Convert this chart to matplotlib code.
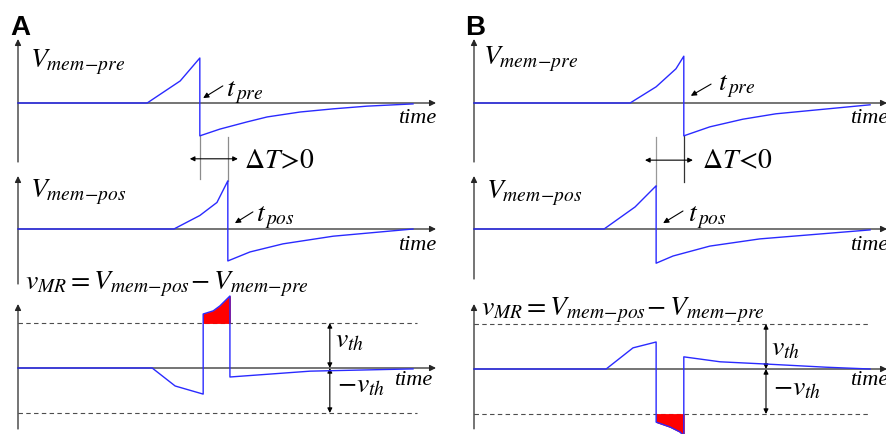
import numpy as np
import matplotlib.pyplot as plt

plt.rcParams['mathtext.fontset'] = 'stix'

# waveforms, time in arbitrary units (axis spans 0..100), voltage in units of v_th
pre_a_t = [0, 30.9, 38.8, 43.5, 43.5, 48.3, 54.8, 59.6, 67.5, 75.4, 83.5, 94.5]
pre_a_v = [0, 0, 0.49, 1.0, -0.73, -0.58, -0.42, -0.31, -0.20, -0.13, -0.07, -0.02]
pos_a_t = [0, 37.3, 43.5, 47.6, 50.2, 50.2, 55.5, 63.4, 75.4, 94.5]
pos_a_v = [0, 0, 0.30, 0.59, 1.07, -0.71, -0.51, -0.33, -0.16, 0.0]
mr_a_t = [0, 32.1, 37.6, 44.3, 44.3, 46.7, 48.3, 50.7, 50.7, 69.9, 94.5]
mr_a_v = [0, 0, -0.40, -0.58, 1.20, 1.27, 1.38, 1.60, -0.20, -0.07, -0.02]

pre_b_t = [0, 37.8, 44.1, 48.9, 50.8, 50.8, 57.1, 65.1, 73.1, 95.9]
pre_b_v = [0, 0, 0.36, 0.76, 1.04, -0.73, -0.53, -0.36, -0.24, -0.04]
pos_b_t = [0, 31.5, 39.0, 44.1, 44.1, 48.2, 57.1, 69.2, 95.9]
pos_b_v = [0, 0, 0.49, 0.96, -0.76, -0.60, -0.38, -0.22, -0.02]
mr_b_t = [0, 32.0, 38.5, 44.1, 44.1, 47.5, 49.9, 50.8, 50.8, 59.6, 70.7, 85.2, 95.9]
mr_b_v = [0, 0, 0.47, 0.60, -1.18, -1.29, -1.40, -1.49, 0.27, 0.16, 0.11, 0.04, 0.0]

v_th = 1.0
spike_a = (43.5, 50.2)   # t_pre, t_pos
spike_b = (50.8, 44.1)

W, H = 887, 435
fig = plt.figure(figsize=(W / 100, H / 100), dpi=100)
BLUE = '#2a2aff'
PX_V = 45.0  # pixels per voltage unit


def make_ax(x0, span, axis_y, top, bottom):
    ax = fig.add_axes([x0 / W, 1 - bottom / H, span / W, (bottom - top) / H])
    ax.set_xlim(0, 100)
    ax.set_ylim(-(bottom - axis_y) / PX_V, (axis_y - top) / PX_V)
    ax.axis('off')
    return ax


def axes_arrows(ax, ybot=None):
    y0, y1 = ax.get_ylim()
    if ybot is None:
        ybot = y0
    ap = dict(arrowstyle='-|>', color='0.15', lw=0.9, shrinkA=0, shrinkB=0,
              mutation_scale=9)
    ax.annotate('', xy=(100, 0), xytext=(0, 0), arrowprops=ap,
                annotation_clip=False)
    ax.annotate('', xy=(0, y1), xytext=(0, ybot), arrowprops=ap,
                annotation_clip=False)


def trace(ax, t, v):
    ax.plot(t, v, color=BLUE, lw=1.0, clip_on=False, zorder=4)


def time_label(ax, x, y, ha='right'):
    ax.text(x, y, 'time', family='Liberation Serif', style='italic',
            fontsize=16, ha=ha, va='baseline')


def tlabel(ax, text, pos, tail, head):
    ax.text(pos[0], pos[1], text, fontsize=20, ha='left', va='baseline')
    ax.annotate('', xy=head, xytext=tail,
                arrowprops=dict(arrowstyle='-|>', color='k', lw=0.8,
                                shrinkA=0, shrinkB=0, mutation_scale=8))


def vth_arrows(ax, x, lo):
    ap = dict(arrowstyle='<|-|>', color='k', lw=0.8, shrinkA=0, shrinkB=0,
              mutation_scale=7)
    ax.annotate('', xy=(x, v_th), xytext=(x, 0), arrowprops=ap)
    ax.annotate('', xy=(x, 0), xytext=(x, lo), arrowprops=ap,
                annotation_clip=False)


def dashed(ax, xend):
    for y in (v_th, -v_th):
        ax.plot([0, xend], [y, y], color='0.3', lw=0.8, ls=(0, (4, 3)),
                clip_on=False, zorder=1)


# ---------------- panel A ----------------
fig.text(10 / W, 1 - 35 / H, 'A', family='Liberation Sans', weight='bold',
         fontsize=20, va='baseline')

a1 = make_ax(18, 418, 104, 40, 163)
axes_arrows(a1)
trace(a1, pre_a_t, pre_a_v)
a1.text(2.9, 0.82, r'$V_{mem\!-\!pre}$', fontsize=20, va='baseline')
tlabel(a1, r'$t_{\,pre}$', (49.8, 0.16), (49.0, 0.38), (44.3, 0.11))
time_label(a1, 100, -0.42)
# delta T bracket
a1.plot([spike_a[0]] * 2, [-0.73, -1.69], color='0.55', lw=0.9, clip_on=False)
a1.plot([spike_a[1]] * 2, [-0.76, -1.73], color='0.55', lw=0.9, clip_on=False)
a1.annotate('', xy=(52.6, -1.24), xytext=(41.1, -1.24), annotation_clip=False,
            arrowprops=dict(arrowstyle='<|-|>', color='k', lw=0.8, shrinkA=0,
                            shrinkB=0, mutation_scale=7))
a1.text(54.1, -1.42, r'$\Delta T\!>\!0$', fontsize=20, va='baseline')

a2 = make_ax(18, 418, 230, 177, 285)
axes_arrows(a2)
trace(a2, pos_a_t, pos_a_v)
a2.text(2.9, 0.73, r'$V_{mem\!-\!pos}$', fontsize=20, va='baseline')
tlabel(a2, r'$t_{\,pos}$', (57.0, 0.18), (56.2, 0.38), (51.9, 0.13))
time_label(a2, 100, -0.44)

a3 = make_ax(18, 418, 369, 305, 430)
axes_arrows(a3)
dashed(a3, 95.5)
t3 = np.array(mr_a_t)
v3 = np.array(mr_a_v)
a3.fill_between(t3[4:8], v_th, v3[4:8], facecolor='red', edgecolor='red',
                lw=0.6, clip_on=False, zorder=3)
trace(a3, mr_a_t, mr_a_v)
a3.text(1.7, 1.76, r'$v_{MR} = V_{mem\!-\!pos}\! - V_{mem\!-\!pre}$',
        fontsize=20, va='baseline', clip_on=False)
vth_arrows(a3, 74.6, -v_th)
a3.text(75.8, 0.47, r'$v_{th}$', fontsize=20, va='baseline')
a3.text(76.3, -0.51, r'$-v_{th}$', fontsize=20, va='baseline')
time_label(a3, 99, -0.36)

# ---------------- panel B ----------------
fig.text(465 / W, 1 - 35 / H, 'B', family='Liberation Sans', weight='bold',
         fontsize=20, va='baseline')

b1 = make_ax(474, 413, 104, 40, 163)
axes_arrows(b1)
trace(b1, pre_b_t, pre_b_v)
b1.text(2.2, 0.87, r'$V_{mem\!-\!pre}$', fontsize=20, va='baseline')
tlabel(b1, r'$t_{\,pre}$', (59.1, 0.31), (57.4, 0.42), (52.5, 0.16))
time_label(b1, 91.0, -0.42, ha='left')
b1.plot([spike_b[1]] * 2, [-0.76, -1.84], color='0.6', lw=0.9, clip_on=False)
b1.plot([spike_b[0]] * 2, [-0.73, -1.76], color='0.2', lw=0.9, clip_on=False)
b1.annotate('', xy=(53.0, -1.27), xytext=(41.4, -1.27), annotation_clip=False,
            arrowprops=dict(arrowstyle='<|-|>', color='k', lw=0.8, shrinkA=0,
                            shrinkB=0, mutation_scale=7))
b1.text(55.2, -1.42, r'$\Delta T\!<\!0$', fontsize=20, va='baseline')

b2 = make_ax(474, 413, 230, 177, 280)
axes_arrows(b2)
trace(b2, pos_b_t, pos_b_v)
b2.text(2.9, 0.71, r'$V_{mem\!-\!pos}$', fontsize=20, va='baseline')
tlabel(b2, r'$t_{\,pos}$', (51.8, 0.18), (50.6, 0.40), (45.8, 0.13))
time_label(b2, 91.0, -0.44, ha='left')

b3 = make_ax(474, 413, 370, 305, 435)
axes_arrows(b3, ybot=-1.33)
dashed(b3, 95.5)
tb = np.array(mr_b_t)
vb = np.array(mr_b_v)
b3.fill_between(tb[4:8], -v_th, vb[4:8], facecolor='red', edgecolor='red',
                lw=0.6, clip_on=False, zorder=3)
trace(b3, mr_b_t, mr_b_v)
b3.text(1.7, 1.22, r'$v_{MR} = V_{mem\!-\!pos}\! - V_{mem\!-\!pre}$',
        fontsize=20, va='baseline', clip_on=False)
vth_arrows(b3, 70.7, -v_th)
b3.text(71.9, 0.33, r'$v_{th}$', fontsize=20, va='baseline')
b3.text(72.4, -0.56, r'$-v_{th}$', fontsize=20, va='baseline')
time_label(b3, 91.0, -0.33, ha='left')

fig.savefig('out.png', dpi=100, facecolor='white')
